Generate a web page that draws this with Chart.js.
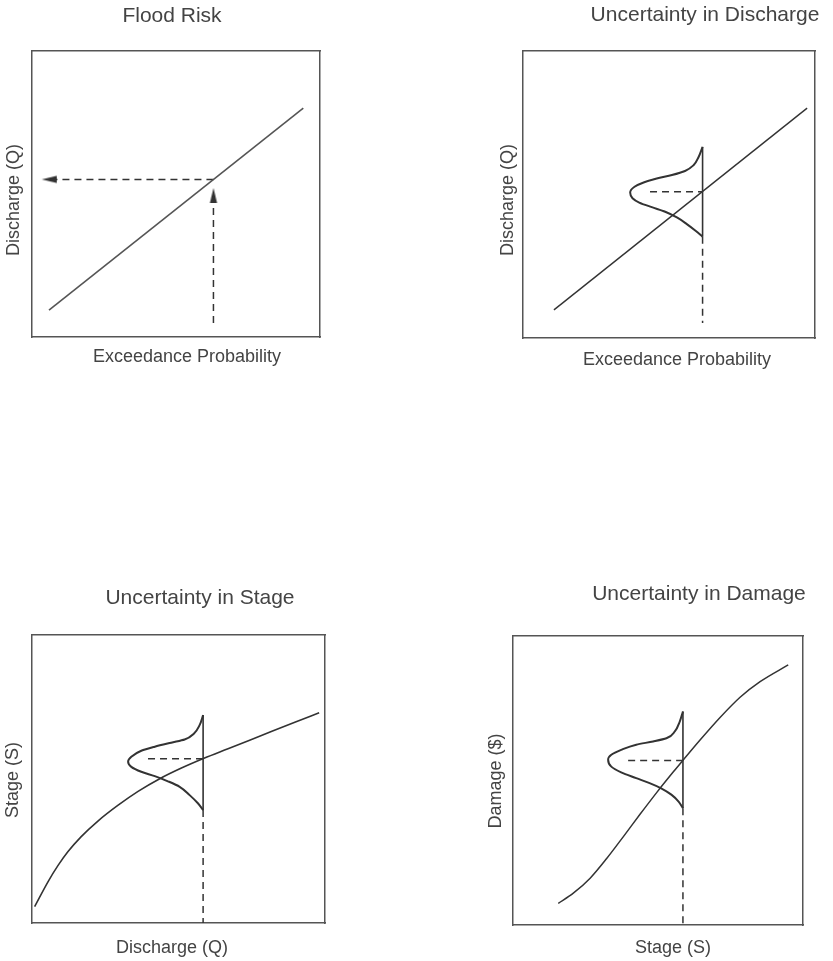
<!DOCTYPE html>
<html><head><meta charset="utf-8">
<script src="https://cdn.jsdelivr.net/npm/chart.js@4.4.1/dist/chart.umd.min.js"></script>
<style>
html,body{margin:0;padding:0;background:#fff;}
body{width:833px;height:961px;position:relative;overflow:hidden;}
canvas{position:absolute;}
</style></head><body>
<canvas id="c1" width="345" height="380" style="left:0;top:0;width:345px;height:380px"></canvas>
<canvas id="c2" width="353" height="380" style="left:480px;top:0;width:353px;height:380px"></canvas>
<canvas id="c3" width="345" height="391" style="left:0;top:570px;width:345px;height:391px"></canvas>
<canvas id="c4" width="353" height="391" style="left:480px;top:570px;width:353px;height:391px"></canvas>
<script>
// ---------- Titles and axis labels ----------
const panelTitles = ["Flood Risk", "Uncertainty in Discharge", "Uncertainty in Stage", "Uncertainty in Damage"];
const xAxisLabels = ["Exceedance Probability", "Exceedance Probability", "Discharge (Q)", "Stage (S)"];
const yAxisLabels = ["Discharge (Q)", "Discharge (Q)", "Stage (S)", "Damage ($)"];

// ---------- Panel 1: Flood Risk ----------
const floodLineX = [5.9, 94.2];
const floodLineY = [9.4, 80.0];
const floodGuideHX = [63.0, 5.5];
const floodGuideHY = [55.1, 55.1];
const floodGuideVX = [63.0, 63.0];
const floodGuideVY = [4.9, 50.5];
const floodArrowLeft = {x: 3.4, y: 55.1};
const floodArrowUp = {x: 63.0, y: 52.1};

// ---------- Panel 2: Uncertainty in Discharge ----------
const dischargeLineX = [10.6, 97.3];
const dischargeLineY = [9.8, 80.1];
const dischargePdfX = [61.5, 60.1, 58.4, 55.5, 51.0, 45.8, 41.3, 38.2, 36.7, 37.5, 39.8, 44.1, 48.7, 52.7, 56.1, 59.2, 61.5];
const dischargePdfY = [66.6, 63.0, 60.2, 58.2, 56.8, 55.6, 54.2, 52.7, 50.7, 48.7, 47.2, 45.6, 44.0, 42.0, 39.7, 37.3, 35.3];
const dischargeBaseX = [61.5, 61.5];
const dischargeBaseY = [35.3, 66.6];
const dischargeGuideHX = [43.5, 61.5];
const dischargeGuideHY = [51.0, 51.0];
const dischargeGuideVX = [61.5, 61.5];
const dischargeGuideVY = [35.3, 5.2];

// ---------- Panel 3: Uncertainty in Stage ----------
const stageCurveX = [0.9, 5.5, 8.9, 12.3, 16.8, 22.5, 29.4, 36.2, 43.6, 51.0, 58.7, 66.9, 78.3, 89.7, 98.0];
const stageCurveY = [5.7, 14.4, 20.0, 24.8, 30.0, 35.4, 40.9, 45.7, 50.1, 53.8, 57.2, 60.5, 65.1, 69.7, 73.0];
const stagePdfX = [58.4, 57.2, 55.3, 52.1, 47.5, 41.9, 37.3, 33.9, 32.8, 33.9, 37.3, 41.9, 46.4, 50.4, 53.8, 56.7, 58.4];
const stagePdfY = [72.2, 68.7, 65.8, 63.7, 62.6, 61.2, 59.8, 57.7, 56.0, 54.2, 52.5, 51.0, 49.2, 47.3, 44.4, 41.5, 39.2];
const stageBaseX = [58.4, 58.4];
const stageBaseY = [39.2, 72.2];
const stageGuideHX = [39.6, 58.4];
const stageGuideHY = [57.0, 57.0];
const stageGuideVX = [58.4, 58.4];
const stageGuideVY = [39.2, 0];

// ---------- Panel 4: Uncertainty in Damage ----------
const damageCurveX = [15.6, 20.8, 26.6, 32.3, 38.0, 43.8, 49.6, 55.3, 58.7, 64.5, 71.4, 78.3, 85.2, 94.9];
const damageCurveY = [7.5, 11.0, 16.2, 23.0, 30.5, 38.3, 45.9, 53.0, 57.1, 64.0, 71.8, 78.8, 84.2, 90.0];
const damagePdfX = [58.6, 57.5, 55.8, 52.9, 48.3, 42.5, 37.3, 33.9, 32.8, 33.9, 37.3, 42.5, 47.1, 51.1, 54.6, 57.1, 58.6];
const damagePdfY = [73.9, 70.4, 67.0, 64.6, 63.5, 62.4, 60.6, 58.9, 57.2, 54.8, 52.8, 50.8, 49.1, 47.3, 45.1, 42.7, 40.4];
const damageBaseX = [58.6, 58.6];
const damageBaseY = [40.4, 73.9];
const damageGuideHX = [39.7, 58.6];
const damageGuideHY = [56.9, 56.9];
const damageGuideVX = [58.6, 58.6];
const damageGuideVY = [40.4, 0];

// ---------- styling ----------
const FONT = '"Liberation Sans", Arial, Helvetica, sans-serif';
const TXT = '#444';
const BOX = '#555';
const INK = '#333';
Chart.defaults.font.family = FONT;
Chart.defaults.color = TXT;

function pts(xs, ys) { return xs.map((x, i) => ({x: x, y: ys[i]})); }

function solid(xs, ys, opts) {
  return Object.assign({data: pts(xs, ys), showLine: true, pointRadius: 0, pointHoverRadius: 0,
    borderColor: INK, borderWidth: 1.5, tension: 0, fill: false}, opts || {});
}
function smooth(xs, ys, opts) {
  return solid(xs, ys, Object.assign({cubicInterpolationMode: 'monotone'}, opts || {}));
}
// probability curve: smooth along the vertical (value) direction
function pdf(xs, ys) {
  return solid(xs, ys, {indexAxis: 'y', cubicInterpolationMode: 'monotone', borderWidth: 2});
}
function dashed(xs, ys) {
  return {data: pts(xs, ys), showLine: true, pointRadius: 0, pointHoverRadius: 0,
    borderColor: INK, borderWidth: 1.5, borderDash: [7, 5], tension: 0, fill: false};
}

// arrowhead sprite: tip at the sprite centre, body extending downward
const arrowImg = document.createElement('canvas');
arrowImg.width = 32; arrowImg.height = 32;
(function () {
  const g = arrowImg.getContext('2d');
  g.fillStyle = INK;
  g.beginPath();
  g.moveTo(16, 16); g.lineTo(19.6, 31); g.lineTo(12.4, 31); g.closePath();
  g.fill();
})();
function arrow(p, rot) {
  return {data: [p], showLine: false, pointStyle: arrowImg, pointRadius: 2, pointHoverRadius: 2,
    pointRotation: rot, borderWidth: 0};
}

// draws the panel title and the two axis titles
const textPlugin = {
  id: 'panelText',
  afterDraw(chart, args, o) {
    const ctx = chart.ctx;
    const put = (text, x, y, size, rot) => {
      ctx.save();
      ctx.font = size + 'px ' + FONT;
      ctx.fillStyle = TXT;
      ctx.textAlign = 'center';
      ctx.textBaseline = 'middle';
      ctx.translate(x, y);
      if (rot) ctx.rotate(rot);
      ctx.fillText(text, 0, 0);
      ctx.restore();
    };
    put(o.title, o.t[0], o.t[1], 21, 0);
    put(o.xLabel, o.xl[0], o.xl[1], 18, 0);
    put(o.yLabel, o.yl[0], o.yl[1], 18, -Math.PI / 2);
  }
};

function scales() {
  const base = (pos) => ({type: 'linear', position: pos, min: 0, max: 100,
    ticks: {display: false}, grid: {display: false, drawTicks: false},
    border: {display: true, color: BOX, width: 1.5}, title: {display: false}});
  return {x: base('bottom'), y: base('left'), x2: base('top'), y2: base('right')};
}

function panel(id, i, datasets, box, t, xl, yl) {
  const cv = document.getElementById(id);
  return new Chart(cv, {
    type: 'scatter',
    data: {datasets: datasets},
    options: {
      responsive: false, animation: false, devicePixelRatio: 1,
      layout: {padding: {left: box[0], top: box[1], right: cv.width - box[2], bottom: cv.height - box[3]}, autoPadding: false},
      plugins: {legend: {display: false}, tooltip: {enabled: false}, title: {display: false},
        panelText: {title: panelTitles[i], xLabel: xAxisLabels[i], yLabel: yAxisLabels[i], t: t, xl: xl, yl: yl}},
      scales: scales()
    },
    plugins: [textPlugin]
  });
}

panel('c1', 0, [
  solid(floodLineX, floodLineY, {borderColor: '#555', borderWidth: 1.6}),
  dashed(floodGuideHX, floodGuideHY),
  dashed(floodGuideVX, floodGuideVY),
  arrow(floodArrowLeft, -90),
  arrow(floodArrowUp, 0)
], [32, 51, 320, 337], [172, 15.8], [187, 357], [14, 200]);

panel('c2', 1, [
  solid(dischargeLineX, dischargeLineY, {borderWidth: 1.4}),
  pdf(dischargePdfX, dischargePdfY),
  solid(dischargeBaseX, dischargeBaseY, {borderWidth: 1.6}),
  dashed(dischargeGuideHX, dischargeGuideHY),
  dashed(dischargeGuideVX, dischargeGuideVY)
], [43, 51, 335, 338], [225, 14.8], [197, 360], [28, 200]);

panel('c3', 2, [
  smooth(stageCurveX, stageCurveY, {borderWidth: 1.6}),
  pdf(stagePdfX, stagePdfY),
  solid(stageBaseX, stageBaseY, {borderWidth: 1.6}),
  dashed(stageGuideHX, stageGuideHY),
  dashed(stageGuideVX, stageGuideVY)
], [32, 65, 325, 353], [200, 28], [172, 378], [13, 210]);

panel('c4', 3, [
  smooth(damageCurveX, damageCurveY, {borderWidth: 1.5}),
  pdf(damagePdfX, damagePdfY),
  solid(damageBaseX, damageBaseY, {borderWidth: 1.6}),
  dashed(damageGuideHX, damageGuideHY),
  dashed(damageGuideVX, damageGuideVY)
], [33, 66, 323, 355], [219, 24.5], [193, 378], [16, 211]);
</script>
</body></html>
